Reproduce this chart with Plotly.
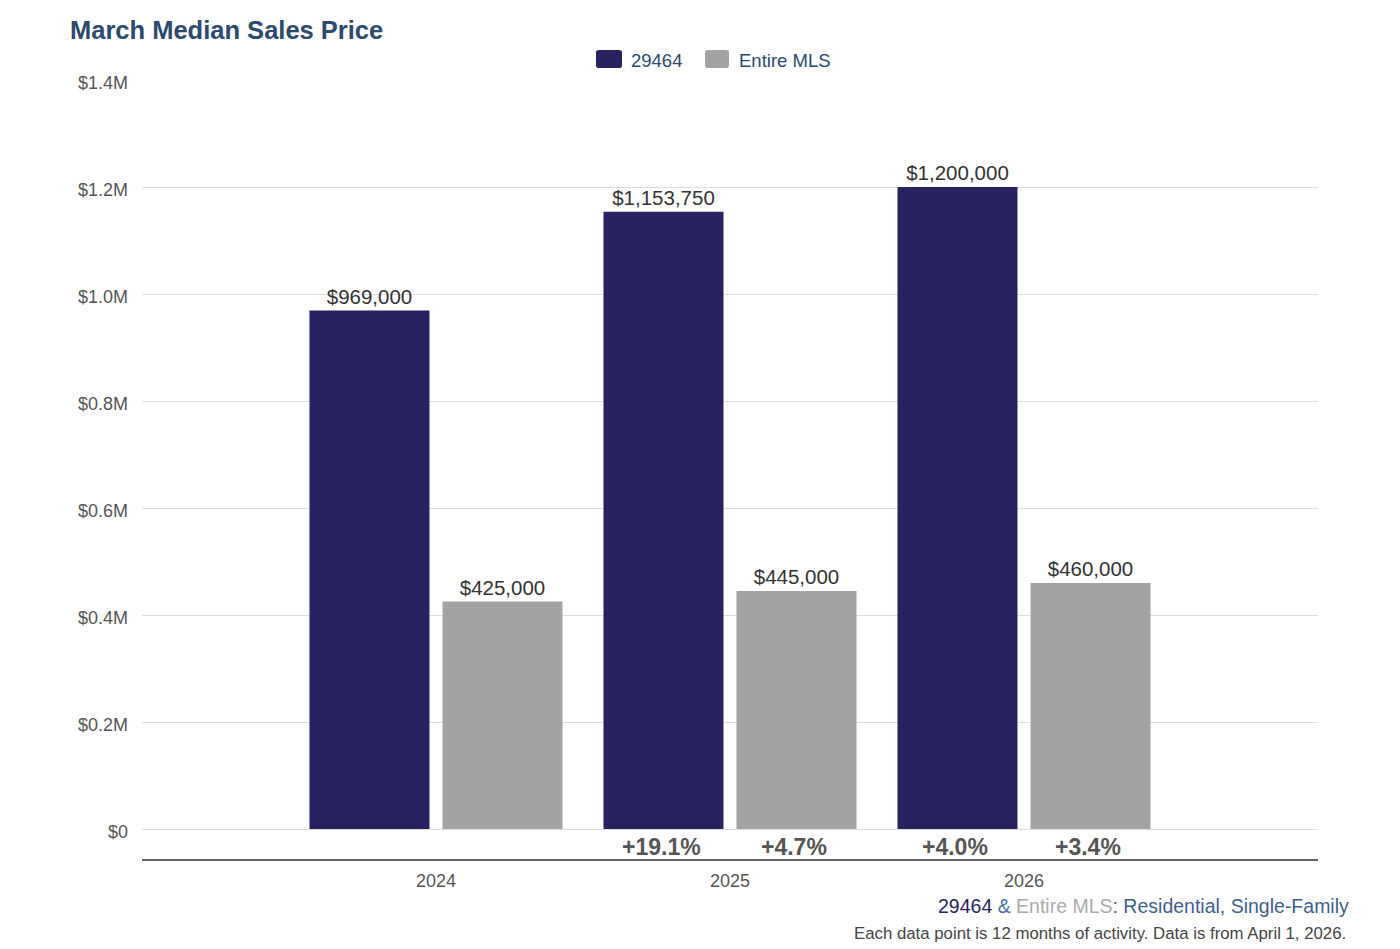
import plotly.graph_objects as go

years = ["2024", "2025", "2026"]
local_vals = [969000, 1153750, 1200000]
mls_vals = [425000, 445000, 460000]
local_pct = ["", "+19.1%", "+4.0%"]
mls_pct = ["", "+4.7%", "+3.4%"]
series_names = ["29464", "Entire MLS"]
ytick_vals = [0, 200000, 400000, 600000, 800000, 1000000, 1200000, 1400000]
ytick_text = ["$0", "$0.2M", "$0.4M", "$0.6M", "$0.8M", "$1.0M", "$1.2M", "$1.4M"]

NAVY = "#282360"
GREY = "#a3a3a3"
TITLE_BLUE = "#2b4a6e"
FONT = "Liberation Sans, Arial, Helvetica, sans-serif"

BARGAP = 0.095
BARGROUPGAP = 0.098
YMIN = -56075
YMAX = 1400000

W, H = 1400, 949
L, R, T, B = 142, 82, 80, 90
pw, ph = W - L - R, H - T - B

def px_x(x):
    return (x - L) / pw

def px_y(y):
    return (H - B - y) / ph

xs = list(range(len(years)))

def money(v):
    return "${:,.0f}".format(v)

fig = go.Figure()
fig.add_trace(go.Bar(
    x=xs, y=local_vals, name=series_names[0], marker_color=NAVY,
    marker_line=dict(width=0),
    text=[money(v) for v in local_vals], textposition="outside",
    textfont=dict(size=20.5, color="#333333", family=FONT), cliponaxis=False,
))
fig.add_trace(go.Bar(
    x=xs, y=mls_vals, name=series_names[1], marker_color=GREY,
    marker_line=dict(width=0),
    text=[money(v) for v in mls_vals], textposition="outside",
    textfont=dict(size=20.5, color="#333333", family=FONT), cliponaxis=False,
))

off = (1 - BARGAP) / 4
pct_y = YMIN * 0.6
for i, (a, b) in enumerate(zip(local_pct, mls_pct)):
    for txt, dx in ((a, -off), (b, off)):
        if txt:
            fig.add_annotation(x=xs[i] + dx - 0.008, y=pct_y, xref="x", yref="y",
                               text="<b>" + txt + "</b>", showarrow=False,
                               font=dict(size=23, color="#555555", family=FONT),
                               yanchor="middle")

# custom legend (rounded swatches)
def rounded_rect(x0, y0, x1, y1, r):
    return ("M {a},{y0} L {b},{y0} Q {x1},{y0} {x1},{c} L {x1},{d} Q {x1},{y1} {b},{y1} "
            "L {a},{y1} Q {x0},{y1} {x0},{d} L {x0},{c} Q {x0},{y0} {a},{y0} Z").format(
        a=x0 + r, b=x1 - r, c=y0 + r, d=y1 - r, x0=x0, x1=x1, y0=y0, y1=y1)

legend_items = [(596, 622, 629, series_names[0], NAVY), (705, 729, 737, series_names[1], GREY)]
for sx0, sx1, tx, name, col in legend_items:
    fig.add_shape(type="path", xref="paper", yref="paper",
                  path=rounded_rect(px_x(sx0), px_y(68), px_x(sx1), px_y(50), 0.003),
                  fillcolor=col, line=dict(width=0))
    fig.add_annotation(x=px_x(tx), y=px_y(60), xref="paper", yref="paper", showarrow=False,
                       text=name, xanchor="left", yanchor="middle",
                       font=dict(size=18.5, color=TITLE_BLUE, family=FONT))

fig.add_annotation(
    x=px_x(1351), y=px_y(906), xref="paper", yref="paper", showarrow=False,
    xanchor="right", yanchor="middle",
    text=("<span style='color:%s'>29464</span>"
          "<span style='color:#4a6fa5'> &amp; </span>"
          "<span style='color:#aaaaaa'>Entire MLS</span>"
          "<span style='color:#3f5f8a'>: Residential, Single-Family</span>") % NAVY,
    font=dict(size=19.5, family=FONT),
)
fig.add_annotation(
    x=px_x(1348), y=px_y(933), xref="paper", yref="paper", showarrow=False,
    xanchor="right", yanchor="middle",
    text="Each data point is 12 months of activity. Data is from April 1, 2026.",
    font=dict(size=16.8, color="#444444", family=FONT),
)

fig.update_layout(
    width=W, height=H,
    margin=dict(l=L, r=R, t=T, b=B),
    paper_bgcolor="white", plot_bgcolor="white",
    barmode="group", bargap=BARGAP, bargroupgap=BARGROUPGAP,
    font=dict(family=FONT, color="#555555"),
    title=dict(text="<b>March Median Sales Price</b>", x=70 / W, xanchor="left",
               y=1 - 30 / H, yanchor="middle",
               font=dict(size=25.5, color=TITLE_BLUE, family=FONT)),
    showlegend=False,
)
fig.update_xaxes(
    range=[-1, 3], tickvals=xs, ticktext=years, showgrid=False,
    showline=True, linecolor="#666666", linewidth=1.5,
    tickfont=dict(size=18, color="#555555", family=FONT), ticks="",
    ticklabelstandoff=5,
)
fig.update_yaxes(
    range=[YMIN, YMAX], tickvals=ytick_vals, ticktext=ytick_text,
    showgrid=True, gridcolor="#dddddd", gridwidth=1.2, zeroline=False,
    tickfont=dict(size=18, color="#555555", family=FONT), ticks="",
    ticklabelstandoff=13, ticklabelshift=3,
)

fig.write_html("out.html")
